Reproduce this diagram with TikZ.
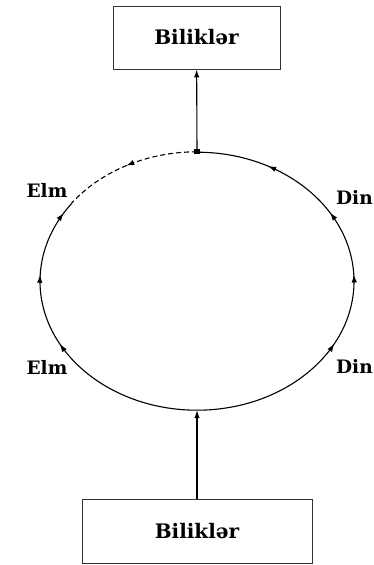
\documentclass[tikz,border=0pt]{standalone}
\usepackage{fontspec}
\newfontfamily\diagfont{DejaVu Serif}
\usetikzlibrary{arrows.meta,positioning,shapes.geometric,decorations.markings}
\tikzset{
  >={Latex[length=8pt,width=5.5pt]},
  knbox/.style={draw=black!80,line width=0.9pt,inner sep=0pt,
    font=\diagfont\bfseries\fontsize{20}{24}\selectfont},
  cyclbl/.style={inner sep=0pt,font=\diagfont\bfseries\fontsize{18.5}{22}\selectfont},
  flow/.style={->,line width=1.1pt},
  cycarc/.style={line width=1.1pt},
  midarr/.style={postaction={decorate,decoration={markings,
    mark=at position #1 with {\arrow{>}}}}},
  junc/.style={fill=black,inner sep=0pt,minimum width=6pt,minimum height=5pt},
}

\begin{document}
\begin{tikzpicture}[x=1pt,y=1pt]
  \useasboundingbox (0,0) rectangle (374,565);
  % knowledge boxes
  \node[knbox,minimum width=167pt,minimum height=63pt] (topbox) at (196.5,527.5) {Biliklər};
  \node[knbox,minimum width=230pt,minimum height=64pt] (botbox) at (197,34) {Biliklər};
  % the cycle
  \node[ellipse,minimum width=314pt,minimum height=258pt,inner sep=0pt] (cyc) at (197,284) {};
  \draw[cycarc,midarr=0.352,midarr=0.515,midarr=0.664,midarr=0.838]
    (cyc.south) arc[start angle=-90,end angle=90,x radius=157,y radius=129];
  \draw[cycarc,midarr=0.509,midarr=0.745,midarr=0.96]
    (cyc.south) arc[start angle=270,end angle=143,x radius=157,y radius=129];
  \draw[cycarc,dash pattern=on 5pt off 3pt,midarr=0.52]
    (cyc.north) arc[start angle=90,end angle=143,x radius=157,y radius=129];
  \node[junc] (jn) at (cyc.north) {};
  \draw[flow] (jn) -- (topbox);
  \draw[flow] (botbox) -- (cyc.south);
  % labels
  \node[cyclbl] (elmup) at (47,375) {Elm};
  \node[cyclbl] (elmlow) at (47,198) {Elm};
  \node[cyclbl,anchor=west] (dinup) at (336,368) {Din};
  \node[cyclbl,anchor=west] (dinlow) at (336,199) {Din};
\end{tikzpicture}
\end{document}
